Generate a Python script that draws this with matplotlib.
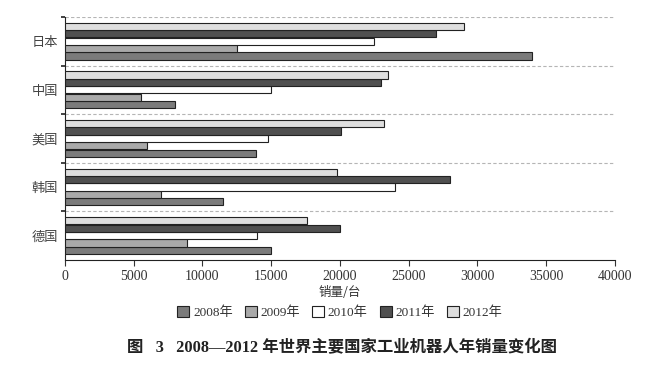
import numpy as np
import matplotlib
matplotlib.use("Agg")
from matplotlib import pyplot as plt
from matplotlib.ticker import FixedLocator

plt.rcParams['font.family'] = ['Liberation Serif', 'Noto Sans CJK SC']

# countries listed bottom to top
countries = ["德国", "韩国", "美国", "中国", "日本"]
years = ["2008年", "2009年", "2010年", "2011年", "2012年"]
sales_2008 = [15000, 11500, 13900, 8000, 34000]
sales_2009 = [8900, 7000, 6000, 5500, 12500]
sales_2010 = [14000, 24000, 14800, 15000, 22500]
sales_2011 = [20000, 28000, 20100, 23000, 27000]
sales_2012 = [17600, 19800, 23200, 23500, 29000]
xticks = [0, 5000, 10000, 15000, 20000, 25000, 30000, 35000, 40000]

series = [sales_2008, sales_2009, sales_2010, sales_2011, sales_2012]
colors = ["#7b7b7b", "#a9a9a9", "#ffffff", "#505050", "#dedede"]

fig = plt.figure(figsize=(6.6, 3.85), dpi=100)
ax = fig.add_axes([0.0985, 0.325, 0.833, 0.631])

y = np.arange(len(countries))
step = 0.152
for i, (vals, c) in enumerate(zip(series, colors)):
    ax.barh(y + (i - 2) * step, vals, height=0.148, color=c,
            edgecolor="#222222", linewidth=0.8, label=years[i], zorder=3)

# dashed separators between countries
for b in np.arange(len(countries)) + 0.5:
    ax.axhline(b, color="#b5b5b5", linestyle=(0, (3, 2)), linewidth=0.8, zorder=1)

ax.set_ylim(-0.5, len(countries) - 0.5)
ax.set_xlim(0, 40000)
ax.set_xticks(xticks)
ax.tick_params(axis="x", labelsize=10, colors="#333333", length=4, width=0.8)

ax.yaxis.set_major_locator(FixedLocator(np.arange(len(countries)) + 0.5))
ax.yaxis.set_major_formatter(plt.NullFormatter())
ax.yaxis.set_minor_locator(FixedLocator(y))
ax.set_yticklabels(countries, minor=True)
ax.tick_params(axis="y", which="major", length=3, width=1.2, color="#222222")
ax.tick_params(axis="y", which="minor", length=0, pad=5, labelsize=9.5,
               labelcolor="#444444")
for lab in ax.get_yticklabels(minor=True):
    lab.set_family("Noto Sans CJK SC")

ax.spines["top"].set_visible(False)
ax.spines["right"].set_visible(False)
ax.spines["left"].set_color("#222222")
ax.spines["bottom"].set_color("#222222")

ax.set_xlabel("销量/台", fontsize=9, color="#333333", labelpad=2,
              family="Noto Sans CJK SC")

fig.legend(loc="center", bbox_to_anchor=(0.515, 0.188), ncol=5, frameon=False,
           fontsize=9.5, handlelength=0.9, handleheight=0.9, handletextpad=0.3,
           columnspacing=0.9, labelcolor="#333333")

fig.text(0.518, 0.095, "图   3   2008—2012 年世界主要国家工业机器人年销量变化图",
         ha="center", va="center", fontsize=11.8, fontweight="bold", color="#222222")

fig.savefig("out.png", dpi=100)
